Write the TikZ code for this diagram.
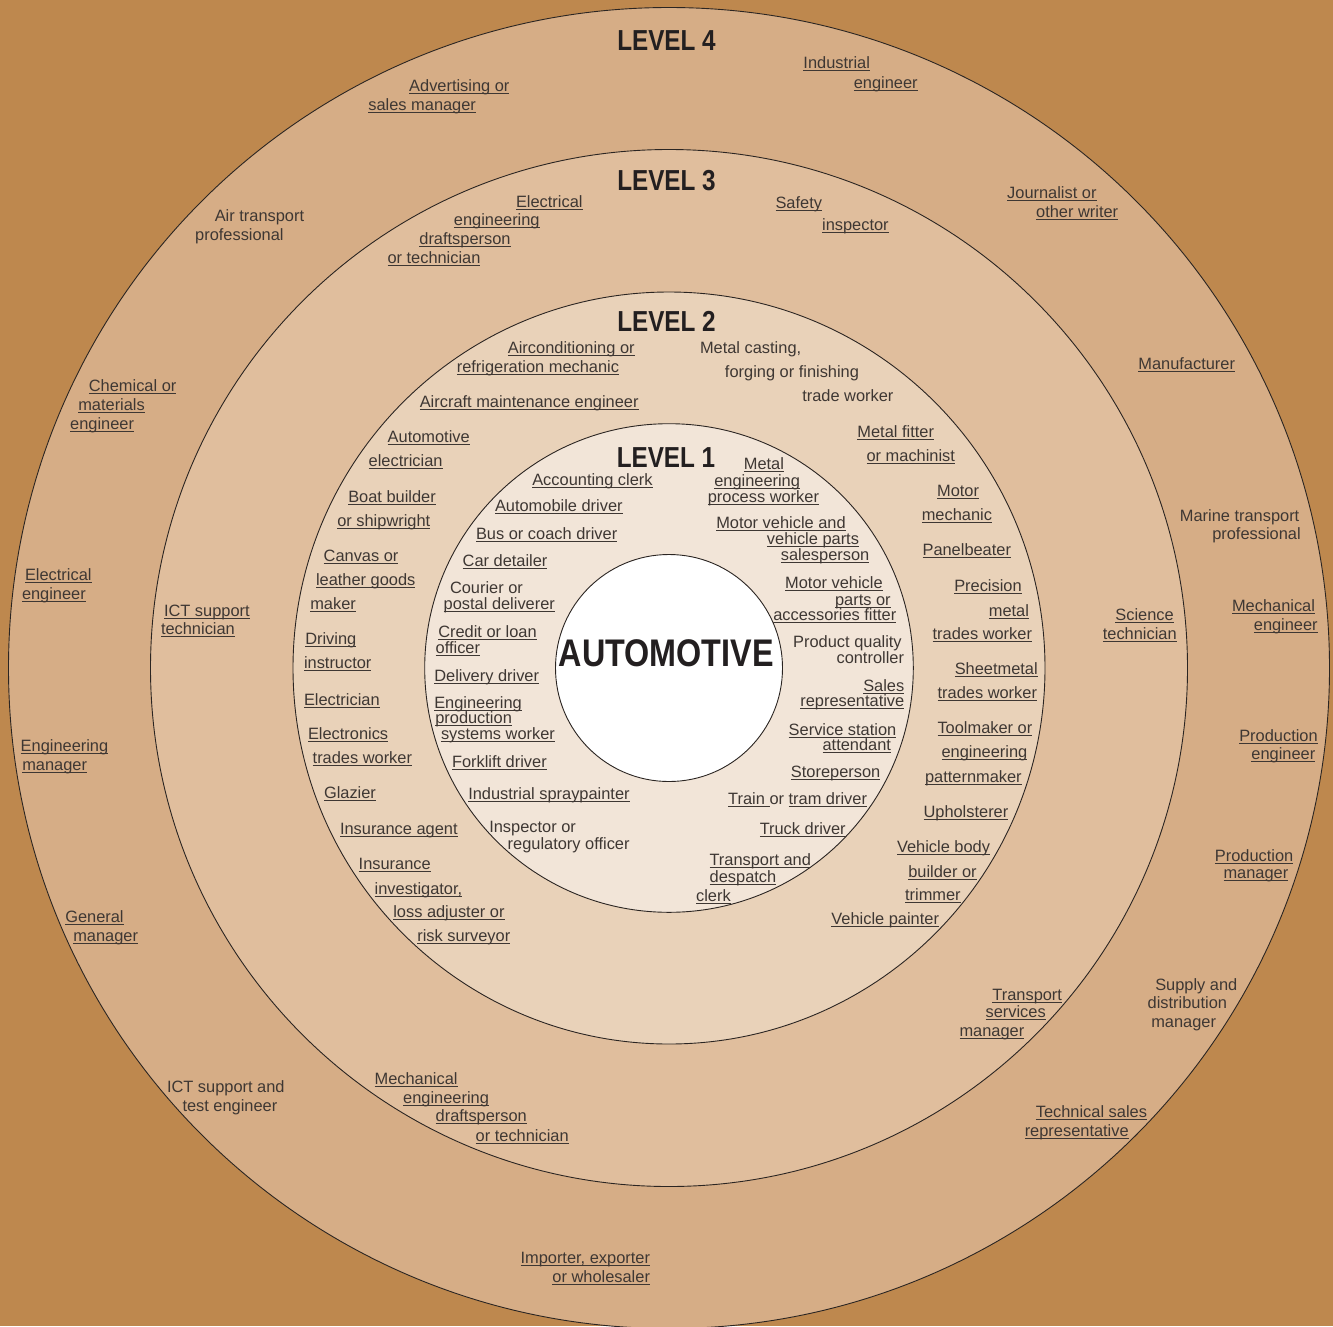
\documentclass[tikz,border=0pt]{standalone}
\usepackage{fontspec}
\setmainfont{Liberation Sans}
\newfontfamily\headfont[FakeStretch=0.84]{Liberation Sans}
\definecolor{bgc}{HTML}{BE884E}
\definecolor{cfour}{HTML}{D6AD86}
\definecolor{cthree}{HTML}{E0BE9D}
\definecolor{ctwo}{HTML}{E9D2B9}
\definecolor{cone}{HTML}{F2E5D8}
\definecolor{edge}{HTML}{2B2522}
\definecolor{txt}{HTML}{3E3733}
\definecolor{hd}{HTML}{231F20}
\newsavebox\ulbox
\newcommand\uln[1]{\sbox\ulbox{#1}\rlap{\rule[-2.4pt]{\wd\ulbox}{0.9pt}}\usebox\ulbox}
\tikzset{
  lab/.style={inner sep=0pt, outer sep=0pt, text=txt, font=\fontsize{16.4}{19}\selectfont},
  lw/.style={lab, anchor=base west},
  le/.style={lab, anchor=base east},
  head/.style={inner sep=0pt, outer sep=0pt, anchor=base, text=hd, font=\headfont\bfseries\fontsize{28.9}{30}\selectfont},
  ring/.style={draw=edge, line width=0.9pt},
}
\begin{document}
\begin{tikzpicture}[x=1pt,y=-1pt]
\useasboundingbox (0,0) rectangle (1333,1326);
\fill[bgc] (0,0) rectangle (1333,1326);
\coordinate (ctr) at (669,668);
\draw[ring, fill=cfour] (ctr) circle[radius=660.5pt];
\draw[ring, fill=cthree] (ctr) circle[radius=518.5pt];
\draw[ring, fill=ctwo] (ctr) circle[radius=376pt];
\draw[ring, fill=cone] (ctr) circle[radius=244.3pt];
\draw[ring, fill=white] (ctr) circle[radius=113.5pt];

% headings
\node[head] (lv4) at (666.5,50) {LEVEL 4};
\node[head] (lv3) at (666.5,190.7) {LEVEL 3};
\node[head] (lv2) at (666.5,331.7) {LEVEL 2};
\node[head] (lv1) at (666,467.3) {LEVEL 1};
\node[head, font=\headfont\bfseries\fontsize{38.5}{40}\selectfont] (auto) at (666.3,666.7) {AUTOMOTIVE};

% level 4 ring
\node[lw] (o1) at (409.2,91) {\uln{Advertising or}};
\node[lw] (o2) at (368.4,110) {\uln{sales manager}};
\node[le] (o3) at (870,68.7) {\uln{Industrial}};
\node[le] (o4) at (917.6,88) {\uln{engineer}};
\node[lw] (o5) at (214.8,221) {Air transport};
\node[lw] (o6) at (195.2,240) {professional};
\node[le] (o7) at (1096.5,198.7) {\uln{Journalist or}};
\node[le] (o8) at (1118.2,217.7) {\uln{other writer}};
\node[le] (o9) at (1235,369.3) {\uln{Manufacturer}};
\node[lw] (o10) at (88.9,391.7) {\uln{Chemical or}};
\node[lw] (o11) at (78.3,410) {\uln{materials}};
\node[lw] (o12) at (70.2,429.3) {\uln{engineer}};
\node[le] (o13) at (1299.3,521.7) {Marine transport};
\node[le] (o14) at (1300.7,539.3) {professional};
\node[lw] (o15) at (25,580.7) {\uln{Electrical}};
\node[lw] (o16) at (22,599.3) {\uln{engineer}};
\node[le] (o17) at (1315,611) {\uln{Mechanical}};
\node[le] (o18) at (1317.7,630) {\uln{engineer}};
\node[lw] (o19) at (20.7,751.7) {\uln{Engineering}};
\node[lw] (o20) at (22.3,770.7) {\uln{manager}};
\node[le] (o21) at (1317.7,741) {\uln{Production}};
\node[le] (o22) at (1315.3,759.3) {\uln{engineer}};
\node[le] (o23) at (1293.3,861) {\uln{Production}};
\node[le] (o24) at (1288.3,878.7) {\uln{manager}};
\node[lw] (o25) at (65.3,922.7) {\uln{General}};
\node[lw] (o26) at (73.3,941) {\uln{manager}};
\node[le] (o27) at (1237.3,990.3) {Supply and};
\node[le] (o28) at (1227,1008.7) {distribution};
\node[le] (o29) at (1216,1027.7) {manager};
\node[lw] (o30) at (167,1092.7) {ICT support and};
\node[lw] (o31) at (182.5,1111.7) {test engineer};
\node[le] (o32) at (1147,1117.7) {\uln{Technical sales}};
\node[le] (o33) at (1128.7,1136.7) {\uln{representative}};
\node[le] (o34) at (650,1263.7) {\uln{Importer, exporter}};
\node[le] (o35) at (650,1282.7) {\uln{or wholesaler}};

% level 3 ring
\node[lw] (th1) at (516,207) {\uln{Electrical}};
\node[lw] (th2) at (453.9,225.3) {\uln{engineering}};
\node[lw] (th3) at (419.4,244) {\uln{draftsperson}};
\node[lw] (th4) at (387.5,263) {\uln{or technician}};
\node[le] (th5) at (822,208.7) {\uln{Safety}};
\node[le] (th6) at (888.7,230.3) {\uln{inspector}};
\node[lw] (th7) at (164,616) {\uln{ICT support}};
\node[lw] (th8) at (161,634.3) {\uln{technician}};
\node[le] (th9) at (1173.7,620.7) {\uln{Science}};
\node[le] (th10) at (1176.7,639.3) {\uln{technician}};
\node[le] (th11) at (1062,1000) {\uln{Transport}};
\node[le] (th12) at (1045.7,1017.7) {\uln{services}};
\node[le] (th13) at (1024.3,1036.7) {\uln{manager}};
\node[lw] (th14) at (374.6,1084.3) {\uln{Mechanical}};
\node[lw] (th15) at (403.2,1103.3) {\uln{engineering}};
\node[lw] (th16) at (435.7,1121.7) {\uln{draftsperson}};
\node[lw] (th17) at (475.7,1141) {\uln{or technician}};

% level 2 ring
\node[lw] (s1) at (507.9,353.7) {\uln{Airconditioning or}};
\node[lw] (s2) at (456.8,372.7) {\uln{refrigeration mechanic}};
\node[lw] (s3) at (419.8,407.7) {\uln{Aircraft maintenance engineer}};
\node[lw] (s4) at (387.7,442.7) {\uln{Automotive}};
\node[lw] (s5) at (368.7,466.7) {\uln{electrician}};
\node[lw] (s6) at (348.3,502.7) {\uln{Boat builder}};
\node[lw] (s7) at (337.3,526) {\uln{or shipwright}};
\node[lw] (s8) at (323.7,561) {\uln{Canvas or}};
\node[lw] (s9) at (316,585.3) {\uln{leather goods}};
\node[lw] (s10) at (310.3,609.3) {\uln{maker}};
\node[lw] (s11) at (305.3,644.3) {\uln{Driving}};
\node[lw] (s12) at (304,668.3) {\uln{instructor}};
\node[lw] (s13) at (304,705) {\uln{Electrician}};
\node[lw] (s14) at (308,739.3) {\uln{Electronics}};
\node[lw] (s15) at (312.7,763.7) {\uln{trades worker}};
\node[lw] (s16) at (324,798.7) {\uln{Glazier}};
\node[lw] (s17) at (340,834.3) {\uln{Insurance agent}};
\node[lw] (s18) at (358.7,869.3) {\uln{Insurance}};
\node[lw] (s19) at (374.7,894) {\uln{investigator,}};
\node[lw] (s20) at (393.3,917) {\uln{loss adjuster or}};
\node[lw] (s21) at (417.3,941.7) {\uln{risk surveyor}};
\node[le] (s22) at (801.2,353.7) {Metal casting,};
\node[le] (s23) at (859,377.7) {forging or finishing};
\node[le] (s24) at (893.4,401.7) {trade worker};
\node[le] (s25) at (934,437.7) {\uln{Metal fitter}};
\node[le] (s26) at (955,461.7) {\uln{or machinist}};
\node[le] (s27) at (979,496.8) {\uln{Motor}};
\node[le] (s28) at (992,520.7) {\uln{mechanic}};
\node[le] (s29) at (1011,555) {\uln{Panelbeater}};
\node[le] (s30) at (1021.7,591.7) {\uln{Precision}};
\node[le] (s31) at (1029,616) {\uln{metal}};
\node[le] (s32) at (1032,639.7) {\uln{trades worker}};
\node[le] (s33) at (1037.7,674.3) {\uln{Sheetmetal}};
\node[le] (s34) at (1037,698.7) {\uln{trades worker}};
\node[le] (s35) at (1032.3,733.7) {\uln{Toolmaker or}};
\node[le] (s36) at (1027.3,757.7) {\uln{engineering}};
\node[le] (s37) at (1021.7,782) {\uln{patternmaker}};
\node[le] (s38) at (1008.3,817.7) {\uln{Upholsterer}};
\node[le] (s39) at (990,852.7) {\uln{Vehicle body}};
\node[le] (s40) at (976.7,877) {\uln{builder or}};
\node[le] (s41) at (960.7,900.7) {\uln{trimmer}};
\node[le] (s42) at (939,924.7) {\uln{Vehicle painter}};

% level 1 ring
\node[lw] (f1) at (532.3,485) {\uln{Accounting clerk}};
\node[lw] (f2) at (495,511.7) {\uln{Automobile driver}};
\node[lw] (f3) at (476,539.3) {\uln{Bus or coach driver}};
\node[lw] (f4) at (462.7,566.7) {\uln{Car detailer}};
\node[lw] (f5) at (450,593.7) {Courier or};
\node[lw] (f6) at (443.7,609.3) {\uln{postal deliverer}};
\node[lw] (f7) at (438.3,637.7) {\uln{Credit or loan}};
\node[lw] (f8) at (435.7,653.7) {\uln{officer}};
\node[lw] (f9) at (434.3,681) {\uln{Delivery driver}};
\node[lw] (f10) at (434.3,708.3) {\uln{Engineering}};
\node[lw] (f11) at (435.3,723.7) {\uln{production}};
\node[lw] (f12) at (441,739.3) {\uln{systems worker}};
\node[lw] (f13) at (452,767.7) {\uln{Forklift driver}};
\node[lw] (f14) at (468.3,799.3) {\uln{Industrial spraypainter}};
\node[lw] (f15) at (489.3,832) {Inspector or};
\node[lw] (f16) at (507.7,849.3) {regulatory officer};
\node[le] (f17) at (784,469.3) {\uln{Metal}};
\node[le] (f18) at (800,486) {\uln{engineering}};
\node[le] (f19) at (819,502) {\uln{process worker}};
\node[le] (f20) at (845.7,528.3) {\uln{Motor vehicle and}};
\node[le] (f21) at (859,544.7) {\uln{vehicle parts}};
\node[le] (f22) at (869.3,560.7) {\uln{salesperson}};
\node[le] (f23) at (882.7,588.7) {\uln{Motor vehicle}};
\node[le] (f24) at (890.7,605.3) {\uln{parts or}};
\node[le] (f25) at (896.3,620.3) {\uln{accessories fitter}};
\node[le] (f26) at (901.7,647.7) {Product quality};
\node[le] (f27) at (904,663.3) {controller};
\node[le] (f28) at (904.3,691) {\uln{Sales}};
\node[le] (f29) at (904.3,706.7) {\uln{representative}};
\node[le] (f30) at (896.3,735) {\uln{Service station}};
\node[le] (f31) at (891,750.3) {\uln{attendant}};
\node[le] (f32) at (880.3,777.7) {\uln{Storeperson}};
\node[le] (f33) at (867,804.3) {\uln{Train\ }or \uln{tram driver}};
\node[le] (f34) at (845.7,834.3) {\uln{Truck driver}};
\node[le] (f35) at (811,865) {\uln{Transport and}};
\node[le] (f36) at (776.3,882.7) {\uln{despatch}};
\node[le] (f37) at (730.7,901.7) {\uln{clerk}};
\end{tikzpicture}
\end{document}
